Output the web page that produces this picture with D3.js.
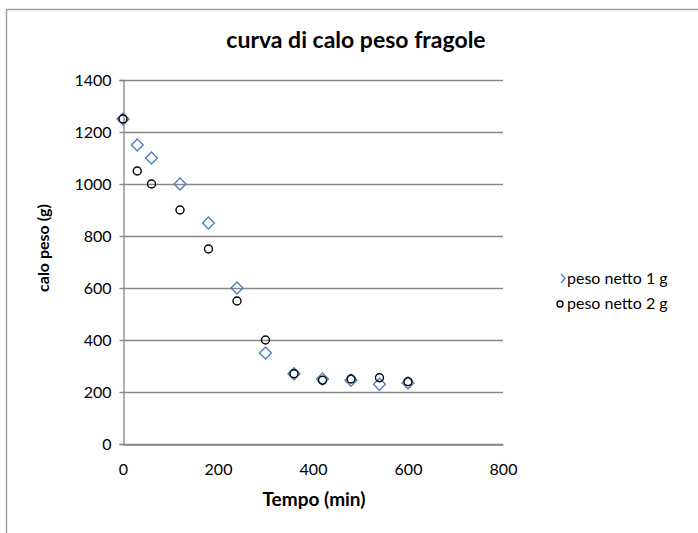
<!DOCTYPE html>
<html>
<head>
<meta charset="utf-8">
<script src="https://cdn.jsdelivr.net/npm/d3@7"></script>
<style>
  body { margin: 0; background: #fff; }
  text { font-family: Lato, "Liberation Sans", sans-serif; fill: #000; }
</style>
</head>
<body>
<div id="chart"></div>
<script>
// data
var tempo = [0, 30, 60, 120, 180, 240, 300, 360, 420, 480, 540, 600];
var peso1 = [1250, 1150, 1100, 1000, 850, 600, 350, 270, 250, 245, 230, 235];
var peso2 = [1250, 1050, 1000, 900, 750, 550, 400, 270, 245, 250, 255, 240];
var xTicks = [0, 200, 400, 600, 800];
var yTicks = [0, 200, 400, 600, 800, 1000, 1200, 1400];
var seriesNames = ["peso netto 1 g", "peso netto 2 g"];

var areaWidth = 698, areaHeight = 533;
var plotLeft = 123, plotRight = 503, plotTop = 80, plotBottom = 444;

var svg = d3.select("#chart").append("svg")
  .attr("width", areaWidth).attr("height", areaHeight);

// chart frame (only top and left edges visible)
svg.append("path")
  .attr("d", "M6.5,533 V9.5 H698")
  .attr("fill", "none").attr("stroke", "#a0a0a0").attr("stroke-width", 1.5);

var xScale = d3.scaleLinear().domain([0, 800]).range([plotLeft, plotRight]);
var yScale = d3.scaleLinear().domain([0, 1400]).range([plotBottom, plotTop]);

// gridlines
svg.selectAll("line.grid")
  .data(yTicks)
  .enter()
  .append("line")
  .attr("class", "grid")
  .attr("x1", plotLeft).attr("x2", plotRight)
  .attr("y1", function (d) { return Math.round(yScale(d)) + 0.5; })
  .attr("y2", function (d) { return Math.round(yScale(d)) + 0.5; })
  .attr("stroke", "#868686").attr("stroke-width", 1.3);

// y axis
var yAxis = svg.append("g")
  .attr("transform", "translate(" + (plotLeft + 0.5) + ",0)")
  .call(d3.axisLeft(yScale).tickValues(yTicks).tickSize(4).tickPadding(8).tickFormat(d3.format("d")));
yAxis.select(".domain").attr("stroke", "#868686").attr("stroke-width", 1.3);
yAxis.selectAll(".tick line").attr("stroke", "#868686").attr("stroke-width", 1.3);
yAxis.selectAll("text").style("font-size", "16px").style("font-family", "Lato, sans-serif").attr("fill", "#000");

// x axis
var xAxis = svg.append("g")
  .attr("transform", "translate(0," + (plotBottom + 0.5) + ")")
  .call(d3.axisBottom(xScale).tickValues(xTicks).tickSize(0).tickPadding(19).tickFormat(d3.format("d")));
xAxis.select(".domain").attr("stroke", "#868686").attr("stroke-width", 1.3);
xAxis.selectAll("text").style("font-size", "16px").style("font-family", "Lato, sans-serif").attr("fill", "#000");

// title and axis titles
svg.append("text")
  .text("curva di calo peso fragole")
  .attr("x", 356).attr("y", 48)
  .attr("text-anchor", "middle")
  .style("font-size", "23px").style("font-weight", "bold");

svg.append("text")
  .text("Tempo (min)")
  .attr("x", 314).attr("y", 506)
  .attr("text-anchor", "middle")
  .style("font-size", "19px").style("font-weight", "bold");

svg.append("text")
  .text("calo peso (g)")
  .attr("transform", "translate(49,248) rotate(-90)")
  .attr("text-anchor", "middle")
  .style("font-size", "16px").style("font-weight", "bold");

// series 1: blue diamonds
var diamond = d3.symbol().type(d3.symbolDiamond2).size(90);
svg.selectAll("path.s1")
  .data(tempo)
  .enter()
  .append("path")
  .attr("class", "s1")
  .attr("d", diamond)
  .attr("transform", function (d, i) {
    return "translate(" + xScale(d) + "," + yScale(peso1[i]) + ")";
  })
  .attr("fill", "none").attr("stroke", "#4f81bd").attr("stroke-width", 1.4);

// series 2: black circles
svg.selectAll("circle.s2")
  .data(tempo)
  .enter()
  .append("circle")
  .attr("class", "s2")
  .attr("cx", function (d) { return xScale(d); })
  .attr("cy", function (d, i) { return yScale(peso2[i]); })
  .attr("r", 4)
  .attr("fill", "none").attr("stroke", "#000").attr("stroke-width", 1.4);

// legend
var legend = svg.append("g");
legend.append("path")
  .attr("d", "M561,274 L565,278.5 L561,283")
  .attr("fill", "none").attr("stroke", "#4f81bd").attr("stroke-width", 1.4);
legend.append("circle")
  .attr("cx", 560).attr("cy", 304).attr("r", 3)
  .attr("fill", "none").attr("stroke", "#000").attr("stroke-width", 1.3);
legend.selectAll("text")
  .data(seriesNames)
  .enter()
  .append("text")
  .text(function (d) { return d; })
  .attr("x", 567)
  .attr("y", function (d, i) { return 284 + i * 25; })
  .style("font-size", "16px");
</script>
</body>
</html>
